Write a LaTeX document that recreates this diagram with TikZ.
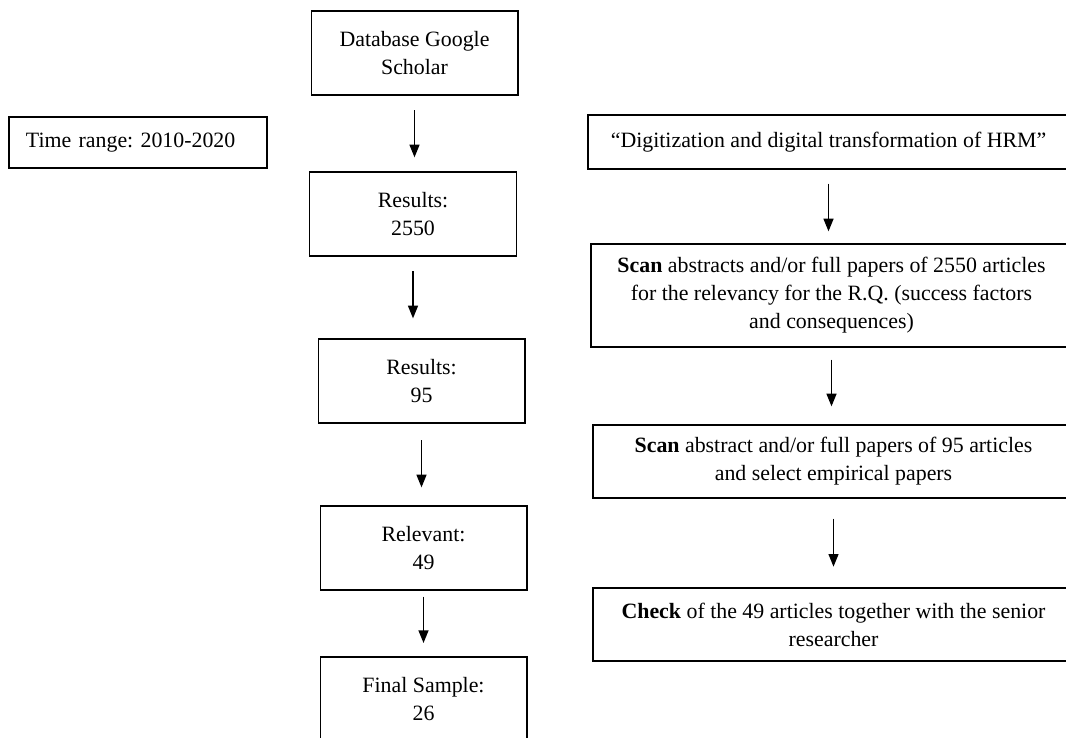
\documentclass[tikz,border=0pt]{standalone}
\usepackage{fontspec}
\setmainfont{Liberation Serif}
\usetikzlibrary{arrows.meta}
\frenchspacing
\tikzset{box/.style={draw,line width=1pt,align=center,inner sep=0pt},
	flow/.style={draw,line width=1pt,-{Triangle[length=9.5pt,width=7.5pt]}}}

\begin{document}
\begin{tikzpicture}[x=0.75pt,y=-0.75pt,font=\fontsize{16.4}{21}\selectfont]
		\clip (0,0) rectangle (1066,738);
		\begin{scope}[every node/.style={box,minimum width=155pt,minimum height=63pt}]
			\node (db) at (414.5,53) {Database Google\\Scholar};
			\node (r2550) at (413,214) {Results:\\2550};
			\node (r95) at (421.5,381) {Results:\\95};
			\node (rel) at (423.5,548) {Relevant:\\49};
			\node (final) at (423.5,699) {Final Sample:\\26};
			\node[minimum width=193.5pt,minimum height=38.25pt,text width=168pt,
				inner xsep=12.75pt,align=left] (time) at (138,142.5) {Time range: 2010-2020};
		\end{scope}
		\begin{scope}[every node/.style={box,minimum width=361pt}]
			\node[minimum height=40.5pt] (dig) at (828.5,142) {``Digitization and digital transformation of HRM''};
			\node[minimum height=77.25pt] (scan1) at (831.5,295.5) {\textbf{Scan} abstracts and/or full papers of 2550 articles\\for the relevancy for the R.Q. (success factors\\and consequences)};
			\node[minimum height=54.75pt] (scan2) at (833.5,461.5) {\textbf{Scan} abstract and/or full papers of 95 articles\\and select empirical papers};
			\node[minimum height=54.75pt] (check) at (833.5,624.5) {\textbf{Check} of the 49 articles together with the senior\\researcher};
		\end{scope}
		\begin{scope}[every edge/.style={flow}]
			\path (db.south) edge[shorten <=11pt,shorten >=10.5pt] (db.south |- r2550.north);
			\path (r2550.south) edge[shorten <=11pt,shorten >=15pt] (r2550.south |- r95.north);
			\path (r95.south) edge[shorten <=12.5pt,shorten >=13.5pt] (r95.south |- rel.north);
			\path (rel.south) edge[shorten <=4.5pt,shorten >=10pt] (rel.south |- final.north);
			\path (dig.south) edge[shorten <=10.5pt,shorten >=9pt] (dig.south |- scan1.north);
			\path (scan1.south) edge[shorten <=9pt,shorten >=13.5pt] (scan1.south |- scan2.north);
			\path (scan2.south) edge[shorten <=15pt,shorten >=15.5pt] (scan2.south |- check.north);
		\end{scope}
\end{tikzpicture}
\end{document}
